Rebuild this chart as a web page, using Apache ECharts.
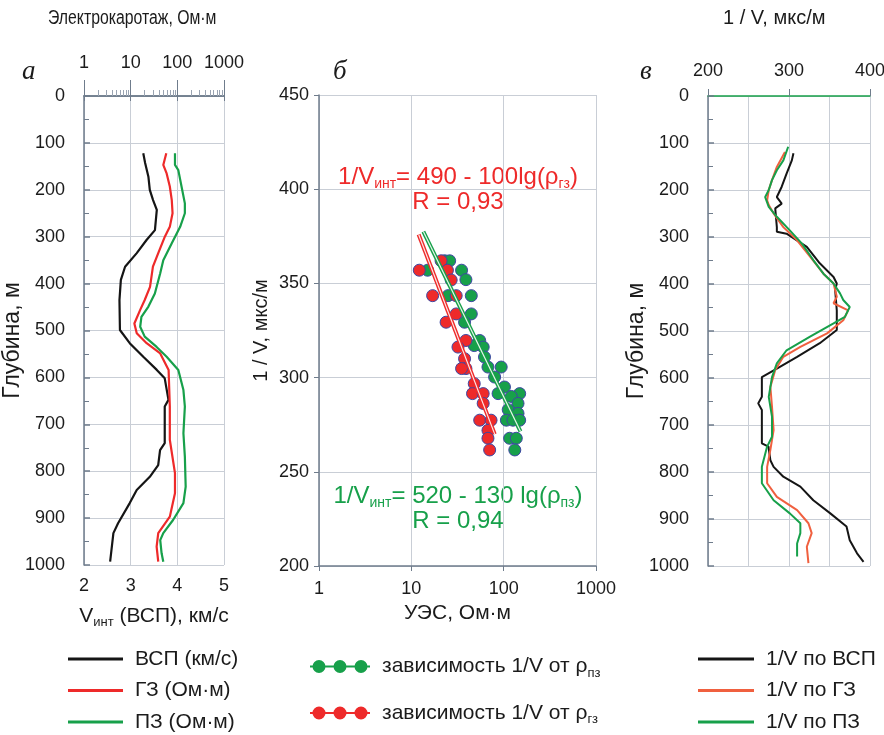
<!DOCTYPE html>
<html>
<head>
<meta charset="utf-8">
<script src="https://cdn.jsdelivr.net/npm/echarts@6/dist/echarts.min.js"></script>
<style>
  html, body { margin: 0; padding: 0; background: #ffffff; }
  #chart { width: 884px; height: 735px; }
</style>
</head>
<body>
<div id="chart"></div>
<script>
// ---------- Panel а: logs vs depth ----------
// VSP interval velocity, km/s
const vspDepth = [122,143,172,200,222,243,286,307,335,364,392,435,499,527,556,584,602,648,662,740,755,787,812,840,868,911,932,993];
const vspVel   = [3.27,3.31,3.38,3.41,3.48,3.56,3.52,3.34,3.13,2.88,2.79,2.76,2.77,2.98,3.27,3.56,3.73,3.81,3.73,3.73,3.63,3.59,3.41,3.13,2.98,2.73,2.63,2.56];
// lateral log (ГЗ), Ohm·m
const gzDepth  = [122,147,165,193,222,250,279,300,335,364,407,435,456,485,506,527,549,584,662,733,804,847,897,932,961,993];
const gzRes    = [58,50,59,69,76,79,69,54,39,30,26,20,16,12,13.5,22,43,65,69,69,89,89,69,39,36,39];
// potential probe (ПЗ), Ohm·m
const pzDepth  = [122,147,158,193,229,250,279,314,350,378,421,449,471,492,513,535,556,584,627,662,719,769,833,868,904,932,947,975,993];
const pzRes    = [89,89,105,123,145,145,115,76,50,43,33,24,17,16,20,36,59,105,135,145,135,145,151,135,81,50,43,46,50];

// ---------- Panel б: slowness vs resistivity ----------
const pzPtRes  = [23,26,15,35,39,25,44.6,44.6,37.7,55,60,48,62,94,67.6,79.8,102,87,149,121,143,112,143,107,126,149,116,137,132];
const pzPtSlow = [362,362,357,357,352,343.5,343.5,333.8,329.4,319.7,316.2,317,310.9,305.6,305.6,300.3,295,291.5,291.5,290,286.3,283,281,277.4,277.4,277.4,267.8,267.8,261.6];
const gzPtRes  = [21,12.2,24.6,27,17,30.6,30.6,23.8,39,32,37.7,39,35,48,46,60,60,55,73,67.6,67.6,70.5];
const gzPtSlow = [362,357,357,351.8,343.5,343.5,333.8,329.4,319.7,316.2,310,304.8,304.8,296.8,291.5,291.5,286.3,277.4,277.4,272,267.8,261.6];
// fitted trend lines (end points)
const pzFitRes  = [13.5, 152];
const pzFitSlow = [377.5, 271.5];
const gzFitRes  = [12, 80];
const gzFitSlow = [376, 270];

// ---------- Panel в: slowness vs depth ----------
const sVspDepth = [122,137,165,193,215,229,239,279,289,293,321,356,385,399,413,456,498,526,555,580,598,640,654,668,739,746,775,789,810,831,860,888,916,945,973,991];
const sVspSlow  = [305.5,303.5,297,291,285,291,283,285,285,297,322,338,355,359,357,359,359,338,310,285,266.5,266.5,262,266.5,266.5,274.7,277,281,293,314,330,351,371,375,384,392];
const sGzDepth  = [119,151,179,200,222,232,250,279,307,342,378,399,427,441,456,477,505,534,555,583,619,661,711,753,789,824,853,881,909,930,959,994];
const sGzSlow   = [295,285,279,275,273,275,281,293,310,326,342.5,355,359,355,373,367,347,314,293,283,277,279,281,277,273,273,285,310,324,328,322,324];
const sPzDepth  = [108,137,158,179,200,215,236,257,286,314,349,378,399,420,434,449,470,484,512,541,569,598,640,682,725,746,789,824,860,888,909,930,952,980];
const sPzSlow   = [299,293,285,279,275,270.6,275,285,301,316,330,342.5,355,363,367,375,369,355,326,297,285,279,275,279,279,273,266.5,266.5,281,301,314,314,310,310];

// ---------- styling ----------
const SANS = "'Liberation Sans', Arial, sans-serif";
const TXT = '#1b1b1b';
const AXIS = '#6f7c8c';
const GRIDC = '#c9ced6';
const BLACK = '#151515';
const RED = '#ee2a2a';
const GREEN = '#17a04a';
const ORANGE = '#f0603f';
const PT_BORDER = '#3d47a3';

const pairs = (xs, ys) => xs.map((x, i) => [x, ys[i]]);
const subRich = (size, color) => ({
  a: { fontFamily: SANS, fontSize: size, color: color || TXT, lineHeight: size + 4 },
  s: { fontFamily: SANS, fontSize: Math.round(size * 0.62), color: color || TXT, lineHeight: size + 4, verticalAlign: 'bottom' }
});
const labelStyle = { fontFamily: SANS, fontSize: 18, color: TXT };
const axisLineStyle = { lineStyle: { color: AXIS, width: 1.5 } };
const splitStyle = { show: true, lineStyle: { color: GRIDC, width: 1 } };
const plainNum = v => String(Math.round(v));

const lineSeries = (name, x, y, data, color, width) => ({
  name, type: 'line', xAxisIndex: x, yAxisIndex: y, data,
  symbol: 'none', showSymbol: false, smooth: false,
  lineStyle: { color, width: width || 2 }, itemStyle: { color },
  silent: true, animation: false
});

// legend glyph: three dots on a thin line
const legendPath = 'path://M0,6L60,6L60,8L0,8Z' +
  'M2.5,7a6.5,6.5 0 1,1 13,0a6.5,6.5 0 1,1 -13,0Z' +
  'M23.5,7a6.5,6.5 0 1,1 13,0a6.5,6.5 0 1,1 -13,0Z' +
  'M44.5,7a6.5,6.5 0 1,1 13,0a6.5,6.5 0 1,1 -13,0Z';

const PZ_NAME = 'зависимость 1/V от ρпз';
const GZ_NAME = 'зависимость 1/V от ρгз';

const legendText = { fontFamily: SANS, fontSize: 21, color: TXT, lineHeight: 22, padding: [0, 0, 0, 7] };
const depthName = { fontFamily: SANS, fontSize: 23, color: TXT, padding: [0, 20, 0, 0] };

const option = {
  animation: false,
  backgroundColor: '#ffffff',
  grid: [
    { left: 84, top: 96, width: 140, height: 469, outerBoundsMode: 'none' },
    { left: 319, top: 95, width: 277, height: 471, outerBoundsMode: 'none' },
    { left: 708, top: 96, width: 162, height: 470, outerBoundsMode: 'none' }
  ],
  xAxis: [
    { // а: velocity, bottom
      gridIndex: 0, type: 'value', position: 'bottom', min: 2, max: 5, interval: 1,
      axisLine: axisLineStyle, axisTick: { show: true, length: 5, lineStyle: { color: AXIS } },
      axisLabel: Object.assign({ margin: 12 }, labelStyle),
      splitLine: splitStyle,
      name: '{a|V}{s|инт}{a| (ВСП), км/с}', nameLocation: 'middle', nameGap: 39, nameMoveOverlap: false,
      nameTextStyle: { rich: subRich(21) }
    },
    { // а: resistivity, top (log)
      gridIndex: 0, type: 'log', logBase: 10, position: 'top', min: 1, max: 1000,
      axisLine: axisLineStyle,
      axisTick: { show: true, length: 16, lineStyle: { color: AXIS } },
      minorTick: { show: true, splitNumber: 9, length: 6, lineStyle: { color: '#9aa4b2' } },
      axisLabel: Object.assign({ margin: 24, formatter: plainNum }, labelStyle),
      splitLine: { show: false }
    },
    { // б: resistivity (log)
      gridIndex: 1, type: 'log', logBase: 10, position: 'bottom', min: 1, max: 1000,
      axisLine: axisLineStyle, axisTick: { show: true, length: 5, lineStyle: { color: AXIS } },
      axisLabel: Object.assign({ margin: 14, formatter: plainNum }, labelStyle),
      splitLine: splitStyle,
      name: 'УЭС, Ом·м', nameLocation: 'middle', nameGap: 37, nameMoveOverlap: false,
      nameTextStyle: { fontFamily: SANS, fontSize: 21, color: TXT }
    },
    { // в: slowness, top
      gridIndex: 2, type: 'value', position: 'top', min: 200, max: 400, interval: 100,
      axisLine: { lineStyle: { color: GREEN, width: 1.5 } },
      axisTick: { show: true, length: 7, lineStyle: { color: AXIS } },
      minorTick: { show: false, splitNumber: 2 },
      minorSplitLine: { show: true, lineStyle: { color: GRIDC, width: 1 } },
      axisLabel: Object.assign({ margin: 16, formatter: plainNum }, labelStyle),
      splitLine: splitStyle
    }
  ],
  yAxis: [
    { // а: depth
      gridIndex: 0, type: 'value', inverse: true, min: 0, max: 1000, interval: 100,
      axisLine: axisLineStyle,
      axisTick: { show: true, inside: true, length: 6, lineStyle: { color: AXIS, width: 1.5 } },
      minorTick: { show: true, splitNumber: 2, length: 5, lineStyle: { color: AXIS } },
      axisLabel: Object.assign({ margin: 19, formatter: plainNum }, labelStyle),
      splitLine: splitStyle,
      name: 'Глубина, м', nameLocation: 'middle', nameGap: 60, nameRotate: 90, nameMoveOverlap: false,
      nameTextStyle: depthName
    },
    { // б: slowness
      gridIndex: 1, type: 'value', min: 200, max: 450, interval: 50,
      axisLine: axisLineStyle,
      axisTick: { show: true, length: 5, lineStyle: { color: AXIS } },
      axisLabel: Object.assign({ margin: 10, formatter: plainNum }, labelStyle),
      splitLine: splitStyle,
      name: '1 / V, мкс/м', nameLocation: 'middle', nameGap: 48, nameRotate: 90, nameMoveOverlap: false,
      nameTextStyle: { fontFamily: SANS, fontSize: 20, color: TXT }
    },
    { // в: depth
      gridIndex: 2, type: 'value', inverse: true, min: 0, max: 1000, interval: 100,
      axisLine: axisLineStyle,
      axisTick: { show: true, inside: true, length: 6, lineStyle: { color: AXIS, width: 1.5 } },
      minorTick: { show: true, splitNumber: 2, length: 5, lineStyle: { color: AXIS } },
      axisLabel: Object.assign({ margin: 19, formatter: plainNum }, labelStyle),
      splitLine: splitStyle,
      name: 'Глубина, м', nameLocation: 'middle', nameGap: 60, nameRotate: 90, nameMoveOverlap: false,
      nameTextStyle: depthName
    }
  ],
  legend: [
    {
      left: 68, top: 648, height: 120, padding: 0, orient: 'vertical',
      itemWidth: 55, itemHeight: 3, itemGap: 9.5, icon: 'rect',
      data: ['ВСП (км/с)', 'ГЗ (Ом·м)', 'ПЗ (Ом·м)'],
      textStyle: legendText, selectedMode: false
    },
    {
      left: 310, top: 656, height: 120, padding: 0, orient: 'vertical',
      itemWidth: 60, itemHeight: 14, itemGap: 23, icon: legendPath,
      itemStyle: { borderWidth: 0 },
      data: [PZ_NAME, GZ_NAME],
      formatter: n => '{a|' + n.slice(0, -2) + '}{s|' + n.slice(-2) + '}',
      textStyle: {
        padding: [0, 0, 0, 7],
        rich: {
          a: { fontFamily: SANS, fontSize: 21, color: TXT, lineHeight: 26 },
          s: { fontFamily: SANS, fontSize: 13, color: TXT, lineHeight: 26, verticalAlign: 'bottom' }
        }
      },
      selectedMode: false
    },
    {
      left: 698, top: 648, height: 120, padding: 0, orient: 'vertical',
      itemWidth: 56, itemHeight: 3, itemGap: 9.5, icon: 'rect',
      data: ['1/V по ВСП', '1/V по ГЗ', '1/V по ПЗ'],
      textStyle: legendText, selectedMode: false
    }
  ],
  graphic: [
    { type: 'text', x: 48, y: 8, scaleX: 0.79,
      style: { text: 'Электрокаротаж, Ом·м', align: 'left', verticalAlign: 'top', font: "20px 'Liberation Sans', sans-serif", fill: TXT } },
    { type: 'text', x: 723, y: 8,
      style: { text: '1 / V, мкс/м', align: 'left', verticalAlign: 'top', font: "20px 'Liberation Sans', sans-serif", fill: TXT } },
    { type: 'text', left: 22, top: 58, style: { text: 'а', font: "italic 27px 'Liberation Serif', serif", fill: TXT } },
    { type: 'text', left: 333, top: 58, style: { text: 'б', font: "italic 27px 'Liberation Serif', serif", fill: TXT } },
    { type: 'text', left: 640, top: 58, style: { text: 'в', font: "italic 27px 'Liberation Serif', serif", fill: TXT } },
    {
      type: 'text', x: 458, y: 177,
      style: {
        text: '{t|1/V}{s|инт}{t|= 490 - 100lg(ρ}{s|гз}{t|)}', align: 'center', verticalAlign: 'middle',
        rich: {
          t: { fontFamily: SANS, fontSize: 24, fill: RED, lineHeight: 28 },
          s: { fontFamily: SANS, fontSize: 14, fill: RED, lineHeight: 28, verticalAlign: 'bottom' }
        }
      }
    },
    { type: 'text', x: 458, y: 202, style: { text: 'R = 0,93', align: 'center', verticalAlign: 'middle', font: "24px 'Liberation Sans', sans-serif", fill: RED } },
    {
      type: 'text', x: 458, y: 496,
      style: {
        text: '{t|1/V}{s|инт}{t|= 520 - 130 lg(ρ}{s|пз}{t|)}', align: 'center', verticalAlign: 'middle',
        rich: {
          t: { fontFamily: SANS, fontSize: 24, fill: GREEN, lineHeight: 28 },
          s: { fontFamily: SANS, fontSize: 14, fill: GREEN, lineHeight: 28, verticalAlign: 'bottom' }
        }
      }
    },
    { type: 'text', x: 458, y: 521, style: { text: 'R = 0,94', align: 'center', verticalAlign: 'middle', font: "24px 'Liberation Sans', sans-serif", fill: GREEN } }
  ],
  series: [
    // panel а
    lineSeries('ВСП (км/с)', 0, 0, pairs(vspVel, vspDepth), BLACK, 2.2),
    lineSeries('ГЗ (Ом·м)', 1, 0, pairs(gzRes, gzDepth), RED, 2.2),
    lineSeries('ПЗ (Ом·м)', 1, 0, pairs(pzRes, pzDepth), GREEN, 2.2),
    // panel б: points
    {
      name: PZ_NAME, type: 'scatter', xAxisIndex: 2, yAxisIndex: 1,
      data: pairs(pzPtRes, pzPtSlow), symbol: 'circle', symbolSize: 12,
      itemStyle: { color: GREEN, borderColor: PT_BORDER, borderWidth: 1, opacity: 1 }, silent: true
    },
    {
      name: GZ_NAME, type: 'scatter', xAxisIndex: 2, yAxisIndex: 1,
      data: pairs(gzPtRes, gzPtSlow), symbol: 'circle', symbolSize: 12,
      itemStyle: { color: RED, borderColor: PT_BORDER, borderWidth: 1, opacity: 1 }, silent: true
    },
    // panel б: trend lines (coloured edges with a light core)
    lineSeries('trend-pz', 2, 1, pairs(pzFitRes, pzFitSlow), GREEN, 4),
    lineSeries('trend-pz-core', 2, 1, pairs(pzFitRes, pzFitSlow), '#e8f6ec', 1.2),
    lineSeries('trend-gz', 2, 1, pairs(gzFitRes, gzFitSlow), RED, 4),
    lineSeries('trend-gz-core', 2, 1, pairs(gzFitRes, gzFitSlow), '#fde8e8', 1.2),
    // panel в
    lineSeries('1/V по ВСП', 3, 2, pairs(sVspSlow, sVspDepth), BLACK, 2),
    lineSeries('1/V по ГЗ', 3, 2, pairs(sGzSlow, sGzDepth), ORANGE, 2),
    lineSeries('1/V по ПЗ', 3, 2, pairs(sPzSlow, sPzDepth), GREEN, 2)
  ]
};

const chart = echarts.init(document.getElementById('chart'), null, { renderer: 'canvas' });
chart.setOption(option);
</script>
</body>
</html>
